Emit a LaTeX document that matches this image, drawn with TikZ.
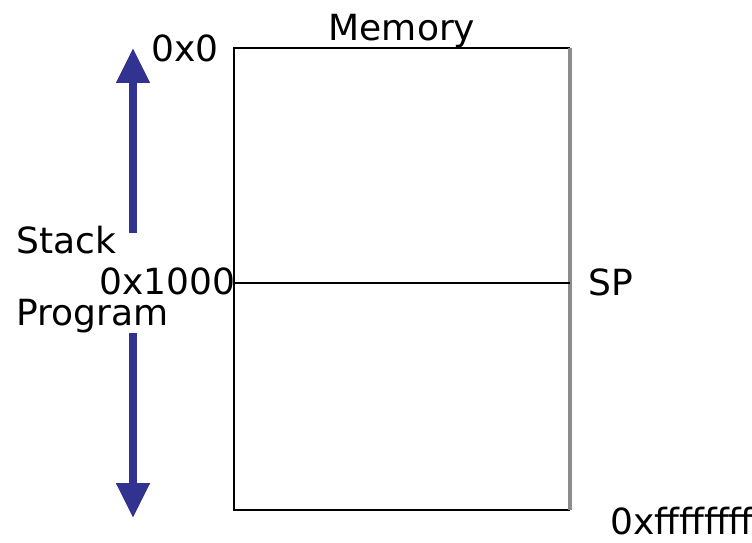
\documentclass[tikz,border=0pt]{standalone}
\usepackage{fontspec}
\setmainfont{DejaVu Sans}
\usetikzlibrary{arrows.meta}

\definecolor{arrowblue}{RGB}{50,50,145}

\begin{document}
\begin{tikzpicture}[
 x=0.02cm,y=-0.02cm,
 lbl/.style={inner sep=0pt,font=\fontsize{20.5}{24}\selectfont},
 bigarr/.style={arrowblue,line width=0.16cm,
 -{Triangle[width=0.64cm,length=0.7cm]}}]
\useasboundingbox (0,0) rectangle (752,542);
% memory block
\coordinate (tl) at (234,48);
\coordinate (tr) at (570,48);
\coordinate (bl) at (234,510);
\coordinate (br) at (570,510);
\coordinate (ml) at (234,283);
\coordinate (mr) at (570,283);
\draw[line width=1.6pt] (tr)--(tl)--(bl)--(br);
\draw[line width=2pt,black!45] (tr)--(br);
\draw[line width=1.2pt] (ml)--(mr);
% labels
\node[lbl,anchor=base] (memlbl) at (402,40) {Memory};
\node[lbl,anchor=base east] (addr0) at (219,61) {0x0};
\node[lbl,anchor=base west] (stack) at (16,253) {Stack};
\node[lbl,anchor=base east] (addr1000) at (236,294) {0x1000};
\node[lbl,anchor=base west] (prog) at (16,325) {Program};
\node[lbl,anchor=base west] (sp) at (588,295) {SP};
\node[lbl,anchor=base east] (addrend) at (754,534) {0xffffffff};
% growth arrows
\coordinate (upstart) at (133,233);
\coordinate (upend) at (133,48);
\coordinate (dnstart) at (133,333);
\coordinate (dnend) at (133,518);
\draw[bigarr] (upstart)--(upend);
\draw[bigarr] (dnstart)--(dnend);
\end{tikzpicture}
\end{document}
